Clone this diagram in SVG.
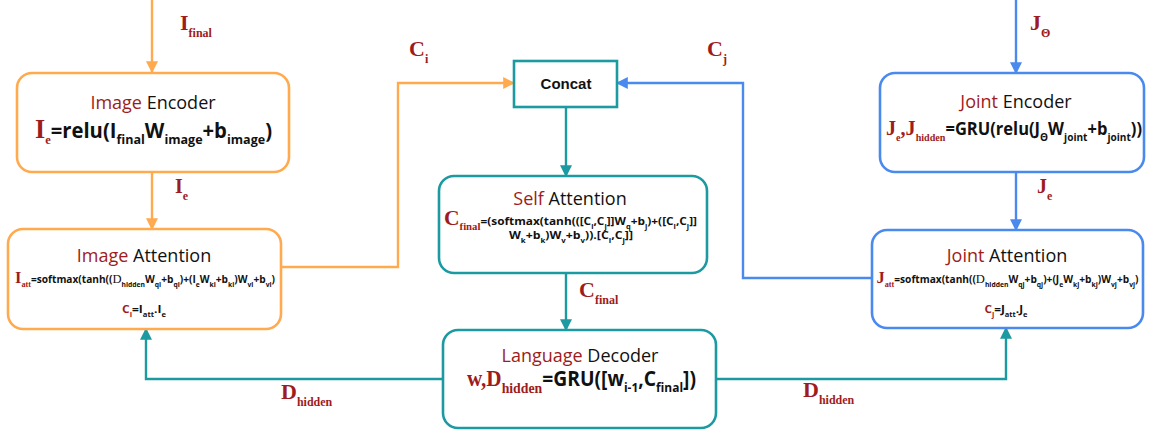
<svg xmlns="http://www.w3.org/2000/svg" width="1154" height="433" viewBox="0 0 1154 433">
<defs>
<style>
.box{fill:#fff;stroke-width:2.6}
.or{stroke:#FFAA4E}
.bl{stroke:#4A8AEE}
.te{stroke:#1C9AA1}
.ln{fill:none;stroke-width:2.4}
.ttl{font-family:"Open Sans","Liberation Sans",sans-serif;font-size:18px;fill:#111}
.red{fill:#9E1B20}
.lbl{font-family:"Liberation Serif",serif;font-weight:bold;fill:#9E1B20}
.f{font-family:"Open Sans","Liberation Sans",sans-serif;font-weight:bold;fill:#111}
.s{font-family:"Liberation Serif",serif;font-weight:bold;fill:#9E1B20}
</style>
<marker id="ao" viewBox="0 0 10 10" refX="9" refY="5" markerWidth="5" markerHeight="5" orient="auto-start-reverse" markerUnits="strokeWidth"><path d="M0,0L10,5L0,10z" fill="#FFAA4E"/></marker>
<marker id="ab" viewBox="0 0 10 10" refX="9" refY="5" markerWidth="5" markerHeight="5" orient="auto-start-reverse" markerUnits="strokeWidth"><path d="M0,0L10,5L0,10z" fill="#4A8AEE"/></marker>
<marker id="at" viewBox="0 0 10 10" refX="9" refY="5" markerWidth="5" markerHeight="5" orient="auto-start-reverse" markerUnits="strokeWidth"><path d="M0,0L10,5L0,10z" fill="#1C9AA1"/></marker>
</defs>

<g id="connectors">
<path class="ln or" d="M152,0V72" marker-end="url(#ao)"/>
<path class="ln or" d="M152,172V229" marker-end="url(#ao)"/>
<path class="ln or" d="M281,267H398V83H514" marker-end="url(#ao)"/>
<path class="ln bl" d="M1016,0V73" marker-end="url(#ab)"/>
<path class="ln bl" d="M1016,172V230" marker-end="url(#ab)"/>
<path class="ln bl" d="M872,278H743V83H617" marker-end="url(#ab)"/>
<path class="ln te" d="M566,107V176" marker-end="url(#at)"/>
<path class="ln te" d="M566,273V330" marker-end="url(#at)"/>
<path class="ln te" d="M443,379H146V329" marker-end="url(#at)"/>
<path class="ln te" d="M716,379H1006V328" marker-end="url(#at)"/>
</g>

<g id="labels">
<text class="lbl" x="180" y="30" font-size="22">I<tspan font-size="12" dy="7">final</tspan></text>
<text class="lbl" x="409" y="56" font-size="22">C<tspan font-size="12" dy="7">i</tspan></text>
<text class="lbl" x="707" y="56" font-size="22">C<tspan font-size="12" dy="7">j</tspan></text>
<text class="lbl" x="1030" y="30" font-size="22">J<tspan font-size="12" dy="7">Θ</tspan></text>
<text class="lbl" x="175" y="193" font-size="20">I<tspan font-size="12" dy="7">e</tspan></text>
<text class="lbl" x="1037" y="193" font-size="20">J<tspan font-size="12" dy="7">e</tspan></text>
<text class="lbl" x="579" y="297" font-size="22">C<tspan font-size="12" dy="7">final</tspan></text>
<text class="lbl" x="281" y="399" font-size="22">D<tspan font-size="12" dy="7">hidden</tspan></text>
<text class="lbl" x="803" y="397" font-size="22">D<tspan font-size="12" dy="7">hidden</tspan></text>
</g>

<g id="image-encoder">
<rect class="box or" x="17" y="73" width="272" height="99" rx="15"/>
<text class="ttl" x="153" y="109" text-anchor="middle"><tspan class="red">Image</tspan> Encoder</text>
<text x="153.5" y="138" text-anchor="middle" class="f" font-size="21" textLength="237" lengthAdjust="spacingAndGlyphs"><tspan class="s" font-size="27">I</tspan><tspan class="s" font-size="13" dy="6">e</tspan><tspan dy="-6">=relu(I</tspan><tspan font-size="13" dy="6">final</tspan><tspan dy="-6">W</tspan><tspan font-size="13" dy="6">image</tspan><tspan dy="-6">+b</tspan><tspan font-size="13" dy="6">image</tspan><tspan dy="-6">)</tspan></text>
</g>

<g id="image-attention">
<rect class="box or" x="8" y="229" width="273" height="100" rx="15"/>
<text class="ttl" x="144" y="262" text-anchor="middle"><tspan class="red">Image</tspan> Attention</text>
<text x="145" y="283" text-anchor="middle" class="f" font-size="10.5" textLength="260" lengthAdjust="spacingAndGlyphs"><tspan class="s" font-size="17">I</tspan><tspan class="s" font-size="8.5" dy="4">att</tspan><tspan dy="-4">=softmax(tanh((</tspan><tspan font-family="Liberation Serif" font-weight="normal" font-size="13">D</tspan><tspan font-size="7" dy="4">hidden</tspan><tspan dy="-4">W</tspan><tspan font-size="7" dy="4">qi</tspan><tspan dy="-4">+b</tspan><tspan font-size="7" dy="4">qi</tspan><tspan dy="-4">)+(I</tspan><tspan font-size="7" dy="4">e</tspan><tspan dy="-4">W</tspan><tspan font-size="7" dy="4">ki</tspan><tspan dy="-4">+b</tspan><tspan font-size="7" dy="4">ki</tspan><tspan dy="-4">)W</tspan><tspan font-size="7" dy="4">vi</tspan><tspan dy="-4">+b</tspan><tspan font-size="7" dy="4">vi</tspan><tspan dy="-4">)</tspan></text>
<text x="144" y="313" text-anchor="middle" class="f" font-size="11" textLength="44" lengthAdjust="spacingAndGlyphs"><tspan class="red">C</tspan><tspan class="red" font-size="7" dy="4">i</tspan><tspan dy="-4">=I</tspan><tspan font-size="7" dy="4">att</tspan><tspan dy="-4">.I</tspan><tspan font-size="7" dy="4">e</tspan></text>
</g>

<g id="concat">
<rect x="514" y="61" width="103" height="46" fill="#fff" stroke="#1C9AA1" stroke-width="2.6"/>
<text x="566" y="89" text-anchor="middle" font-family="Liberation Sans,sans-serif" font-weight="bold" font-size="15" fill="#111">Concat</text>
</g>

<g id="self-attention">
<rect class="box te" x="439" y="176" width="268" height="97" rx="15"/>
<text class="ttl" x="570" y="205" text-anchor="middle"><tspan class="red">Self</tspan> Attention</text>
<text x="570.5" y="225" text-anchor="middle" class="f" font-size="11" textLength="253" lengthAdjust="spacingAndGlyphs"><tspan class="s" font-size="20">C</tspan><tspan class="s" font-size="10" dy="5">final</tspan><tspan dy="-5">=(softmax(tanh(([C</tspan><tspan font-size="7" dy="4">i</tspan><tspan dy="-4">,C</tspan><tspan font-size="7" dy="4">j</tspan><tspan dy="-4">]]W</tspan><tspan font-size="7" dy="4">q</tspan><tspan dy="-4">+b</tspan><tspan font-size="7" dy="4">j</tspan><tspan dy="-4">)+([C</tspan><tspan font-size="7" dy="4">i</tspan><tspan dy="-4">,C</tspan><tspan font-size="7" dy="4">j</tspan><tspan dy="-4">]]</tspan></text>
<text x="571" y="239" text-anchor="middle" class="f" font-size="11" textLength="124" lengthAdjust="spacingAndGlyphs">W<tspan font-size="7" dy="4">k</tspan><tspan dy="-4">+b</tspan><tspan font-size="7" dy="4">k</tspan><tspan dy="-4">)W</tspan><tspan font-size="7" dy="4">v</tspan><tspan dy="-4">+b</tspan><tspan font-size="7" dy="4">v</tspan><tspan dy="-4">)).[C</tspan><tspan font-size="7" dy="4">i</tspan><tspan dy="-4">,C</tspan><tspan font-size="7" dy="4">j</tspan><tspan dy="-4">]]</tspan></text>
</g>

<g id="language-decoder">
<rect class="box te" x="443" y="330" width="273" height="98" rx="15"/>
<text class="ttl" x="580" y="362" text-anchor="middle"><tspan class="red">Language</tspan> Decoder</text>
<text x="581.5" y="386" text-anchor="middle" class="f" font-size="21" textLength="229" lengthAdjust="spacingAndGlyphs"><tspan class="s" font-size="23">w,D</tspan><tspan class="s" font-size="15" dy="7">hidden</tspan><tspan dy="-7">=GRU([w</tspan><tspan font-size="13" dy="6">i-1</tspan><tspan dy="-6">,C</tspan><tspan font-size="13" dy="6">final</tspan><tspan dy="-6">])</tspan></text>
</g>

<g id="joint-encoder">
<rect class="box bl" x="880" y="73" width="264" height="99" rx="15"/>
<text class="ttl" x="1016" y="108" text-anchor="middle"><tspan class="red">Joint</tspan> Encoder</text>
<text x="1014" y="135" text-anchor="middle" class="f" font-size="18" textLength="256" lengthAdjust="spacingAndGlyphs"><tspan class="s" font-size="22">J</tspan><tspan class="s" font-size="11" dy="6">e</tspan><tspan class="s" font-size="22" dy="-6">,J</tspan><tspan class="s" font-size="11" dy="6">hidden</tspan><tspan dy="-6">=GRU(relu(J</tspan><tspan font-size="11" dy="6">Θ</tspan><tspan dy="-6">W</tspan><tspan font-size="11" dy="6">joint</tspan><tspan dy="-6">+b</tspan><tspan font-size="11" dy="6">joint</tspan><tspan dy="-6">))</tspan></text>
</g>

<g id="joint-attention">
<rect class="box bl" x="872" y="230" width="271" height="98" rx="15"/>
<text class="ttl" x="1007" y="262" text-anchor="middle"><tspan class="red">Joint</tspan> Attention</text>
<text x="1007.5" y="283" text-anchor="middle" class="f" font-size="10.5" textLength="262" lengthAdjust="spacingAndGlyphs"><tspan class="s" font-size="17">J</tspan><tspan class="s" font-size="8.5" dy="4">att</tspan><tspan dy="-4">=softmax(tanh((</tspan><tspan font-family="Liberation Serif" font-weight="normal" font-size="13">D</tspan><tspan font-size="7" dy="4">hidden</tspan><tspan dy="-4">W</tspan><tspan font-size="7" dy="4">qj</tspan><tspan dy="-4">+b</tspan><tspan font-size="7" dy="4">qj</tspan><tspan dy="-4">)+(J</tspan><tspan font-size="7" dy="4">e</tspan><tspan dy="-4">W</tspan><tspan font-size="7" dy="4">kj</tspan><tspan dy="-4">+b</tspan><tspan font-size="7" dy="4">kj</tspan><tspan dy="-4">)W</tspan><tspan font-size="7" dy="4">vj</tspan><tspan dy="-4">+b</tspan><tspan font-size="7" dy="4">vj</tspan><tspan dy="-4">)</tspan></text>
<text x="1006" y="313" text-anchor="middle" class="f" font-size="11" textLength="43" lengthAdjust="spacingAndGlyphs"><tspan class="red">C</tspan><tspan class="red" font-size="7" dy="4">j</tspan><tspan dy="-4">=J</tspan><tspan font-size="7" dy="4">att</tspan><tspan dy="-4">.J</tspan><tspan font-size="7" dy="4">e</tspan></text>
</g>
</svg>
